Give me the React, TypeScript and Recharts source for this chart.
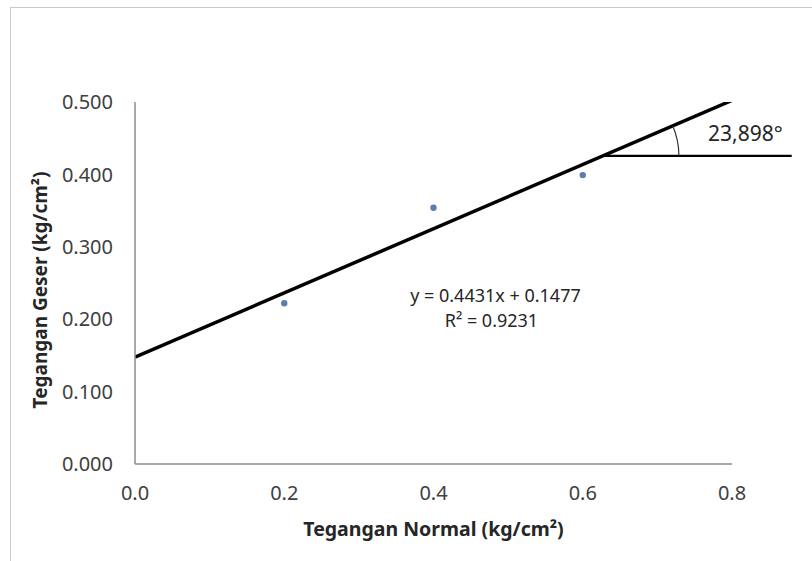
import { ComposedChart, Label, Line, ReferenceDot, ReferenceLine, Scatter, XAxis, YAxis } from 'recharts';

// measured points
const normalStress = [0.2, 0.4, 0.6];
const shearStress = [0.222, 0.354, 0.399];

// trendline endpoints, y = 0.4431x + 0.1477
const trendX = [0, 0.8];
const trendY = [0.1477, 0.5022];

const xTicks = [0, 0.2, 0.4, 0.6, 0.8];
const yTicks = [0, 0.1, 0.2, 0.3, 0.4, 0.5];

// angle marker: start on the trendline, horizontal arm to the right
const angleFrom = { x: 0.627, y: 0.4256 };
const angleTo = { x: 0.88, y: 0.4256 };
const angleText = '23,898°';
const equationText = 'y = 0.4431x + 0.1477';
const r2Text = 'R² = 0.9231';

const points = normalStress.map((x, i) => ({ x, y: shearStress[i] }));
const trend = trendX.map((x, i) => ({ x, y: trendY[i] }));

const FONT = '"Noto Sans", "Open Sans", sans-serif';

function ArcShape(props: { cx?: number; cy?: number }) {
  const { cx = 0, cy = 0 } = props;
  const r = 76;
  const a = (23.3 * Math.PI) / 180;
  const ex = cx + r * Math.cos(a);
  const ey = cy - r * Math.sin(a);
  return <path d={`M ${cx + r} ${cy} A ${r} ${r} 0 0 0 ${ex} ${ey}`} fill="none" stroke="#333" strokeWidth={1.2} />;
}

// equation + R² as one two-line text block
function EquationShape(props: { cx?: number; cy?: number }) {
  const { cx = 0, cy = 0 } = props;
  return (
    <text fontFamily={FONT} fontSize={18} fill="#262626" textAnchor="middle" x={cx} y={cy + 5}>
      <tspan x={cx}>{equationText}</tspan>
      <tspan x={cx - 4} dy={25}>{r2Text}</tspan>
    </text>
  );
}

export default function App() {
  return (
    <div style={{ position: 'absolute', left: 0, top: 0, width: 812, height: 561, overflow: 'hidden', background: '#fff', fontFamily: FONT }}>
      <div style={{ position: 'absolute', left: 10, top: 7, width: 900, height: 700, border: '1px solid #c8c8c8' }} />
      <ComposedChart width={812} height={561} margin={{ top: 102, right: 80, bottom: 0, left: 0 }} style={{ position: 'absolute', left: 0, top: 0 }}>
        <XAxis
          type="number"
          dataKey="x"
          domain={[0, 0.8]}
          ticks={xTicks}
          tickFormatter={(v) => Number(v).toFixed(1)}
          tickLine={false}
          axisLine={{ stroke: '#8c8c8c', strokeWidth: 1.5 }}
          tickMargin={16}
          height={97}
          tick={{ fontSize: 20, fill: '#404040', fontFamily: FONT }}
          allowDataOverflow
        >
          <Label value="Tegangan Normal (kg/cm²)" position="insideBottom" offset={25} style={{ fontSize: 19.5, fontWeight: 700, fill: '#262626', fontFamily: FONT }} />
        </XAxis>
        <YAxis
          type="number"
          dataKey="y"
          domain={[0, 0.5]}
          ticks={yTicks}
          tickFormatter={(v) => Number(v).toFixed(3)}
          tickLine={false}
          axisLine={{ stroke: '#8c8c8c', strokeWidth: 1.5 }}
          tickMargin={16}
          width={135}
          tick={{ fontSize: 20, fill: '#404040', fontFamily: FONT }}
          allowDataOverflow
        >
          <Label value="Tegangan Geser (kg/cm²)" angle={-90} position="insideLeft" offset={40} dy={7} style={{ fontSize: 19, fontWeight: 700, fill: '#262626', fontFamily: FONT, textAnchor: 'middle' }} />
        </YAxis>
        <Line data={trend} dataKey="y" type="linear" stroke="#000" strokeWidth={3.5} dot={false} isAnimationActive={false} />
        <Scatter data={points} fill="#5b7db3" shape={(p: { cx?: number; cy?: number }) => <circle cx={p.cx} cy={p.cy} r={3.2} fill="#5b7db3" />} isAnimationActive={false} />
        <ReferenceLine segment={[angleFrom, angleTo]} stroke="#000" strokeWidth={2.2} ifOverflow="visible" />
        <ReferenceDot x={angleFrom.x} y={angleFrom.y} r={0} shape={ArcShape} ifOverflow="visible" />
        <ReferenceDot x={0.483} y={0.231} r={0} shape={EquationShape} ifOverflow="visible" />
        <ReferenceDot
          x={0.818}
          y={0.457}
          r={0}
          ifOverflow="visible"
          shape={(p: { cx?: number; cy?: number }) => (
            <text x={p.cx} y={p.cy} textAnchor="middle" dominantBaseline="central" fontFamily={FONT} fontSize={21} fill="#262626">
              {angleText}
            </text>
          )}
        />
      </ComposedChart>
    </div>
  );
}
